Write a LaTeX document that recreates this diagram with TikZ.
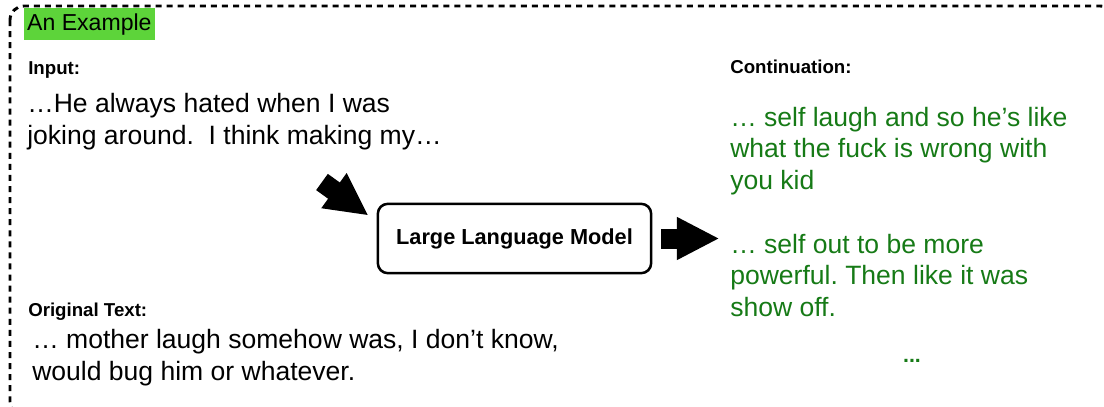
\documentclass[tikz,border=0pt]{standalone}
\usepackage{fontspec}
\setmainfont{Liberation Sans}
\frenchspacing
\usetikzlibrary{positioning,calc,arrows.meta}
\definecolor{tagfill}{RGB}{93,212,58}
\definecolor{contgreen}{RGB}{22,122,22}

\begin{document}
\begin{tikzpicture}[x=0.75pt,y=-0.75pt,
    lbl/.style={font=\fontsize{14}{17}\selectfont\bfseries,inner sep=0pt,anchor=base west},
    txt/.style={font=\fontsize{19.9}{23.3}\selectfont,inner sep=0pt,anchor=base west,align=left},
    cont/.style={txt,text=contgreen},
    llmbox/.style={draw,line width=1.9pt,rounded corners=7.5pt,minimum width=205pt,minimum height=52pt,font=\fontsize{16.3}{19}\selectfont\bfseries},
    fat/.style={line width=15pt,-{Triangle[length=32pt,width=30pt]}}]
%
   \useasboundingbox (0,0) rectangle (1104,407);
   \draw[line width=2.2pt,dash pattern=on 4.5pt off 3.8pt,rounded corners=10.5pt] (10,6) rectangle (1114,416);
%
   % multi-line nodes sit on the baseline of their last line
   \node[fill=tagfill,inner xsep=2.2pt,inner ysep=0pt,minimum height=24pt,anchor=north west,font=\fontsize{17.3}{20}\selectfont] (Tag) at (24,8) {An Example};
   \node[lbl]  (InLbl)   at (28,74)  {Input:};
   \node[txt]  (InTxt)   at (27,144) {…He always hated when I was\\joking around.\ \ I think making my…};
   \node[lbl]  (OrigLbl) at (28,316) {Original Text:};
   \node[txt]  (OrigTxt) at (32,380) {… mother laugh somehow was, I don’t know,\\would bug him or whatever.};
   \node[lbl]  (ContLbl) at (730,73) {Continuation:};
   \node[cont] (C1)      at (730,189) {… self laugh and so he’s like\\what the fuck is wrong with\\you kid};
   \node[cont] (C2)      at (730,316) {… self out to be more\\powerful. Then like it was\\show off.};
   \node[lbl,anchor=base,text=contgreen,font=\fontsize{16}{18}\selectfont\bfseries] (Dots) at (912,362) {...};
%
   \node[llmbox] (LLM) at (514.5,238.5) {Large Language Model};
%
   \coordinate (A1) at (322,182);
   \draw[fat] (A1) -- ($(LLM.north west)+(-8,13)$);
   \draw[fat] ($(LLM.east)+(9,0)$) -- ++(58,0);
\end{tikzpicture}
\end{document}
